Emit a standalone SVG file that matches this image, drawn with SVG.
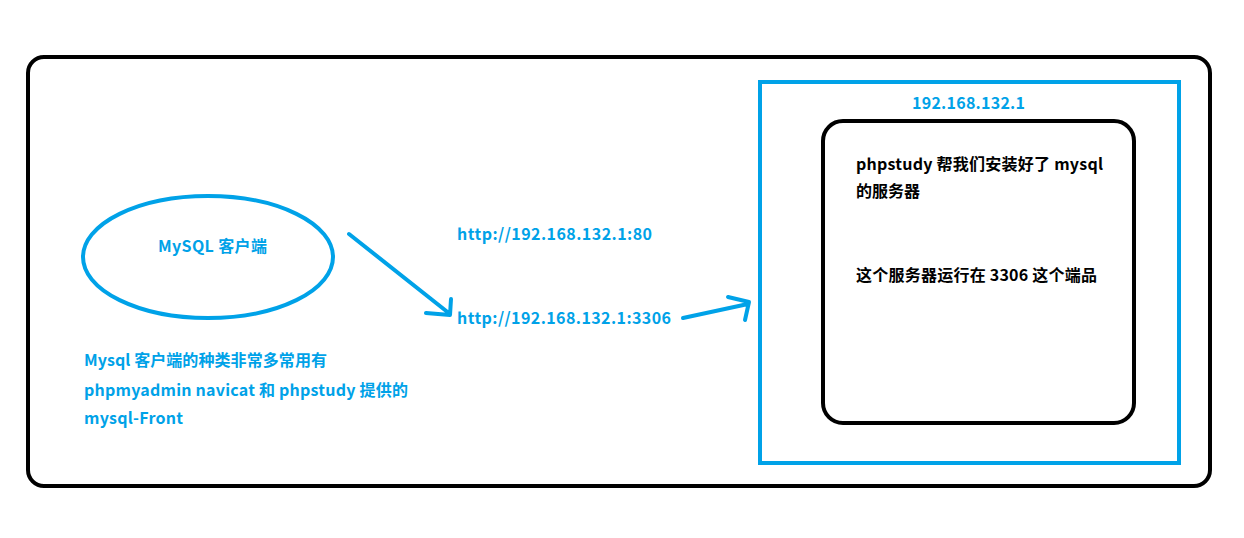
<svg xmlns="http://www.w3.org/2000/svg" width="1244" height="538" viewBox="0 0 1244 538">
<style>
text{font-family:"Microsoft YaHei","Noto Sans CJK SC","Noto Sans",sans-serif;font-weight:bold;font-size:16px}
.b{fill:#00A2E8}
.k{fill:#000}
.ln{fill:none;stroke:#00A2E8;stroke-width:4;stroke-linecap:round;stroke-linejoin:round}
</style>
<rect width="1244" height="538" fill="#fff"/>
<g id="frame"><rect x="28" y="57" width="1182" height="429" rx="16" fill="none" stroke="#000" stroke-width="4"/></g>
<g id="client">
<ellipse cx="208" cy="257" rx="125" ry="61" class="ln"/>
<text x="158" y="252" class="b" textLength="109">MySQL 客户端</text>
</g>
<g id="note">
<text x="84" y="366" class="b" textLength="243">Mysql 客户端的种类非常多常用有</text>
<text x="84" y="396" class="b" textLength="324">phpmyadmin navicat 和 phpstudy 提供的</text>
<text x="84" y="424" class="b" textLength="99">mysql-Front</text>
</g>
<g id="urls">
<text x="457" y="240" class="b" textLength="195">http://192.168.132.1:80</text>
<text x="457" y="324" class="b" textLength="214">http://192.168.132.1:3306</text>
</g>
<g id="server">
<rect x="760" y="82" width="419" height="381" fill="none" stroke="#00A2E8" stroke-width="4"/>
<text x="912" y="109" class="b" textLength="113">192.168.132.1</text>
<rect x="823" y="121" width="311" height="302" rx="20" fill="none" stroke="#000" stroke-width="4"/>
<text x="856" y="170" class="k" textLength="247">phpstudy 帮我们安装好了 mysql</text>
<text x="856" y="197" class="k">的服务器</text>
<text x="856" y="281" class="k" textLength="241">这个服务器运行在 3306 这个端品</text>
</g>
<g id="connectors">
<path d="M349 234 L450 314 M451 299 L450 315 L426 313" class="ln"/>
<path d="M683 318 L748 304 M728 297 L749 302 L745 320" class="ln"/>
</g>
</svg>
